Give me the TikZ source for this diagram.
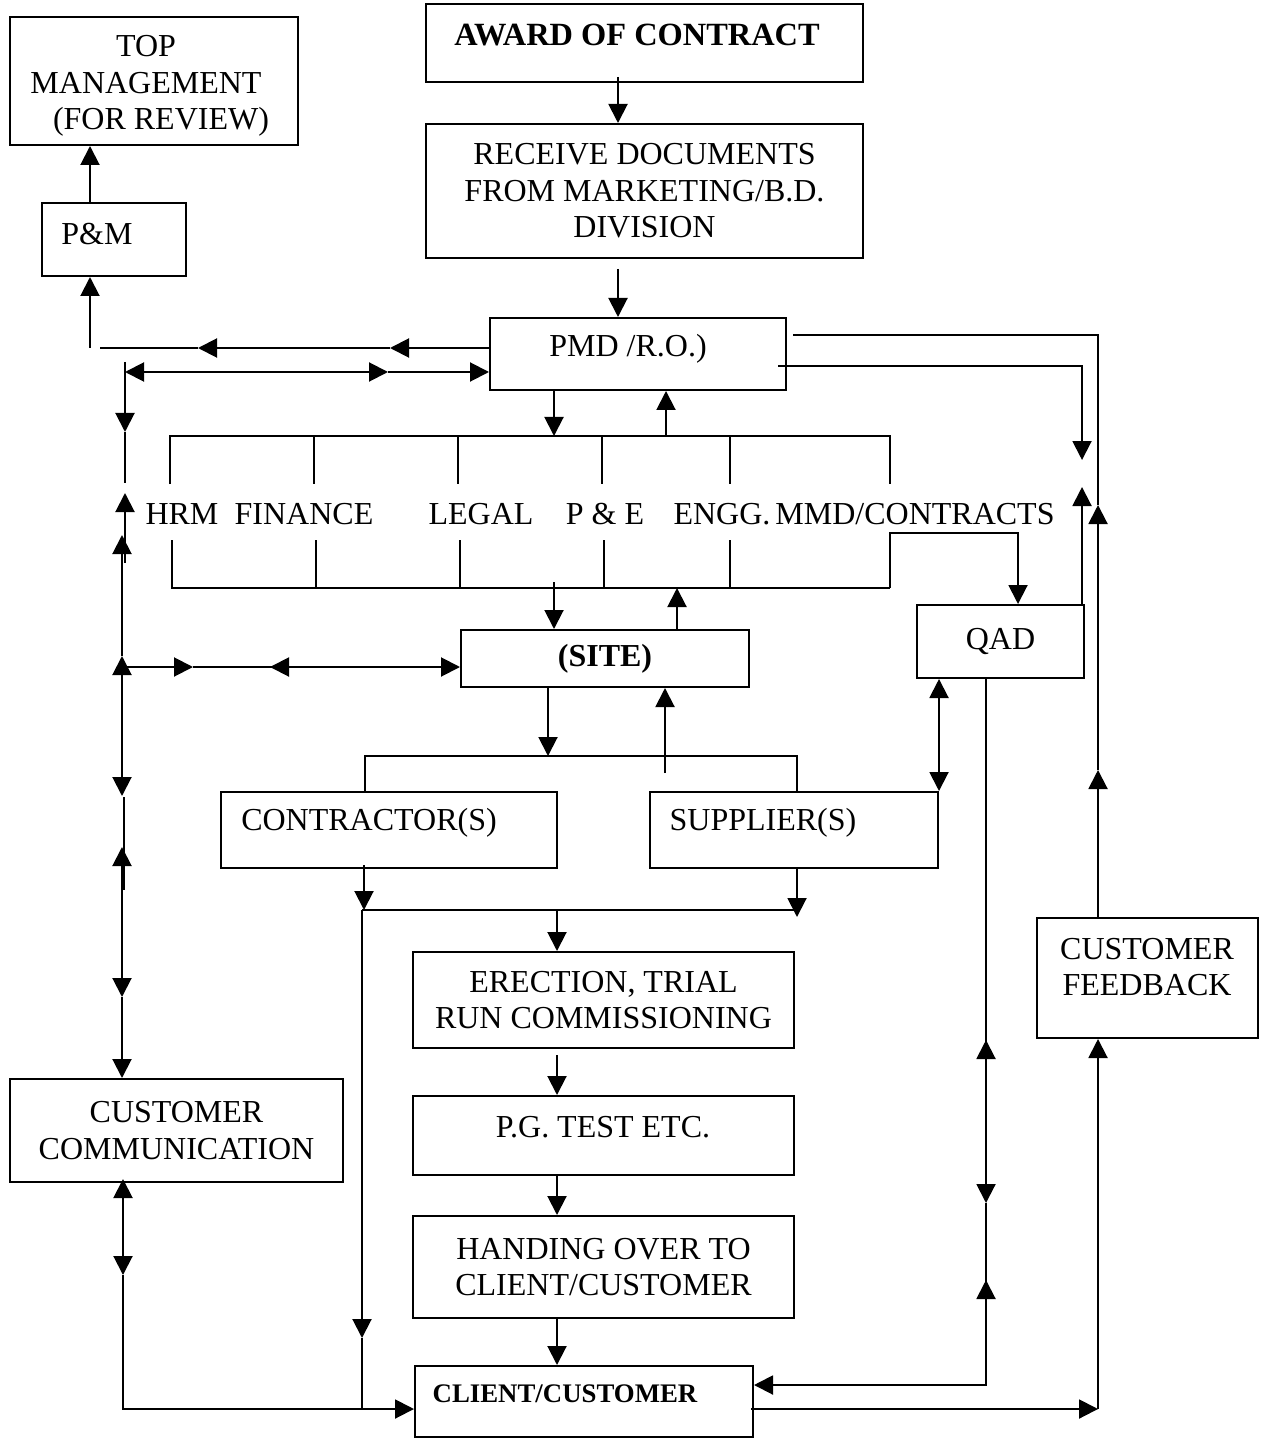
\documentclass[tikz,border=0pt]{standalone}
\usepackage{fontspec}
\setmainfont{Liberation Serif}
\usetikzlibrary{arrows.meta}

\tikzset{
  box/.style={draw, inner sep=0pt, align=center},
  txt/.style={inner sep=0pt, align=center},
  arr/.style={-{Triangle[length=9.5pt,width=9.5pt]}},
  dbl/.style={{Triangle[length=9.5pt,width=9.5pt]}-{Triangle[length=9.5pt,width=9.5pt]}},
}

\begin{document}
\begin{tikzpicture}[x=0.5pt,y=-0.5pt,line width=1pt,font=\fontsize{16}{18.25}\selectfont]
  \useasboundingbox (0,0) rectangle (1260,1438);
  % boxes
  \node[box, minimum width=144pt, minimum height=64pt] (topm) at (154,81) {};
  \node[txt] (topmtxt) at (146,86) {TOP\\MANAGEMENT\\\hspace*{15pt}(FOR REVIEW)};
  \node[box, minimum width=72pt, minimum height=36.5pt] (pm) at (114,239.5) {};
  \node[txt] (pmtxt) at (97,234) {P\&M};
  \node[box, minimum width=218.5pt, minimum height=39pt] (award) at (644.5,43) {};
  \node[txt, font=\fontsize{16.2}{18.25}\selectfont\bfseries] (awardtxt) at (637,35) {AWARD OF CONTRACT};
  \node[box, minimum width=218.5pt, minimum height=67pt] (receive) at (644.5,191)
    {RECEIVE DOCUMENTS\\FROM MARKETING/B.D.\\DIVISION};
  \node[box, minimum width=148pt, minimum height=36pt] (pmd) at (638,354) {};
  \node[txt] (pmdtxt) at (628,349) {PMD /R.O.)};
  \node[box, minimum width=144pt, minimum height=28.5pt, font=\fontsize{16}{18.25}\selectfont\bfseries] (site) at (605,658.5) {(SITE)};
  \node[box, minimum width=83.5pt, minimum height=36.5pt] (qad) at (1000.5,641.5) {QAD};
  \node[box, minimum width=168pt, minimum height=38pt] (contr) at (389,830) {};
  \node[txt] (contrtxt) at (369,823) {CONTRACTOR(S)};
  \node[box, minimum width=144pt, minimum height=38pt] (supp) at (794,830) {};
  \node[txt] (supptxt) at (763,823) {SUPPLIER(S)};
  \node[box, minimum width=190.5pt, minimum height=48pt] (erect) at (603.5,1000)
    {ERECTION, TRIAL\\RUN COMMISSIONING};
  \node[box, minimum width=190.5pt, minimum height=39.5pt] (pgt) at (603.5,1135.5) {};
  \node[txt] (pgttxt) at (603,1127) {P.G. TEST ETC.};
  \node[box, minimum width=190.5pt, minimum height=51pt] (hand) at (603.5,1267)
    {HANDING OVER TO\\CLIENT/CUSTOMER};
  \node[box, minimum width=169pt, minimum height=35.5pt] (client) at (584,1401.5) {};
  \node[txt, font=\fontsize{13.4}{16}\selectfont\bfseries] (clienttxt) at (565,1394) {CLIENT/CUSTOMER};
  \node[box, minimum width=166.5pt, minimum height=51.5pt] (custcomm) at (176.5,1130.5)
    {CUSTOMER\\COMMUNICATION};
  \node[box, minimum width=110.5pt, minimum height=60pt] (fb) at (1147.5,978) {};
  \node[txt] (fbtxt) at (1147,967) {CUSTOMER\\FEEDBACK};
  % departments
  \node[txt] (hrm) at (182,514) {HRM};
  \node[txt] (fin) at (304,514) {FINANCE};
  \node[txt] (legal) at (481,514) {LEGAL};
  \node[txt] (pe) at (605,514) {P \& E};
  \node[txt] (engg) at (722,514) {ENGG.};
  \node[txt] (mmd) at (915,514) {MMD/CONTRACTS};

  % main chain
  \draw[arr] ([yshift=3pt]award.south -| 618,0) -- (receive.north -| 618,0);
  \draw[arr] ([yshift=-5pt]receive.south -| 618,0) -- (pmd.north -| 618,0);
  \draw[arr] (pmd.south -| 554,0) -- (554,436);
  \draw[arr] (666,436) -- (pmd.south -| 666,0);
  % department brackets
  \draw (170,484) -- (170,436) -- (890,436) -- (890,484);
  \foreach \x in {314,458,602,730}
    \draw (\x,436) -- (\x,484);
  \draw (172,540) -- (172,588) -- (890,588);
  \foreach \x in {316,460,604,730}
    \draw (\x,540) -- (\x,588);
  \draw[arr] (890,588) -- (890,533) -- (1018,533) -- (qad.north -| 1018,0);
  \draw[arr] (554,582) -- (site.north -| 554,0);
  \draw[arr] (site.north -| 677,0) -- (677,588);
  % site to contractors / suppliers
  \draw[arr] (site.south -| 548,0) -- (548,756);
  \draw (contr.north -| 365,0) -- (365,756) -- (797,756) -- (supp.north -| 797,0);
  \draw[arr] (665,773) -- (site.south -| 665,0);
  \draw[dbl] (supp.north east) -- (qad.south -| supp.north east);
  \draw[arr] ([yshift=2pt]contr.south -| 364,0) -- (364,910);
  \draw[arr] (supp.south -| 797,0) -- (797,917);
  \draw (362,910) -- (797,910);
  \draw[arr] (557,910) -- (erect.north -| 557,0);
  \draw[arr] (362,910) -- (362,1338);
  \draw (362,1338) -- (362,1409);
  % execution chain
  \draw[arr] ([yshift=-3pt]erect.south -| 557,0) -- (pgt.north -| 557,0);
  \draw[arr] (pgt.south -| 557,0) -- (hand.north -| 557,0);
  \draw[arr] (hand.south -| 557,0) -- (client.north -| 557,0);

  % left side
  \draw[arr] (pmd.west |- 0,348) -- (390,348);
  \draw[arr] (390,348) -- (198,348);
  \draw (198,348) -- (100,348);
  \draw[arr] (90,348) -- (pm.south -| 90,0);
  \draw[arr] (pm.north -| 90,0) -- (topm.south -| 90,0);
  \draw[dbl] (125,372) -- (388,372);
  \draw[arr] (388,372) -- (pmd.west |- 0,372);
  \draw (125,362) -- (125,372);
  \draw[arr] (125,372) -- (125,432);
  \draw (125,432) -- (125,483);
  \draw[arr] (125,563) -- (125,493);
  \draw[arr] (122,656) -- (122,535);
  \draw[dbl] (122,656) -- (122,796);
  \draw[arr] (122,667) -- (193,667);
  \draw (193,667) -- (270,667);
  \draw[arr] (300,667) -- (270,667);
  \draw[arr] (270,667) -- (site.west |- 0,667);
  \draw (124,797) -- (124,890);
  \draw[dbl] (122,847) -- (122,997);
  \draw[arr] (122,997) -- (custcomm.north -| 122,0);
  \draw[dbl] ([yshift=2pt]custcomm.south -| 123,0) -- (123,1275);
  \draw[arr] (123,1275) -- (123,1409) -- (client.west |- 0,1409);

  % right side
  \draw (qad.south -| 986,0) -- (986,1040);
  \draw[arr] (986,1100) -- (986,1040);
  \draw[arr] (986,1040) -- (986,1203);
  \draw (986,1203) -- (986,1280);
  \draw[arr] (986,1330) -- (986,1280);
  \draw[arr] (986,1280) -- (986,1385) -- (client.east |- 0,1385);
  \draw[arr] ([xshift=-1.5pt]client.east |- 0,1409) -- (1098,1409);
  \draw[arr] (1098,1409) -- (fb.south -| 1098,0);
  \draw[arr] (fb.north -| 1098,0) -- (1098,770);
  \draw[arr] (1098,770) -- (1098,505);
  \draw (1098,505) -- (1098,335) -- (793,335);
  \draw[arr] ([xshift=-4.5pt]pmd.east |- 0,366) -- (1082,366) -- (1082,460);
  \draw[arr] (qad.north -| 1082,0) -- (1082,487);
\end{tikzpicture}
\end{document}
